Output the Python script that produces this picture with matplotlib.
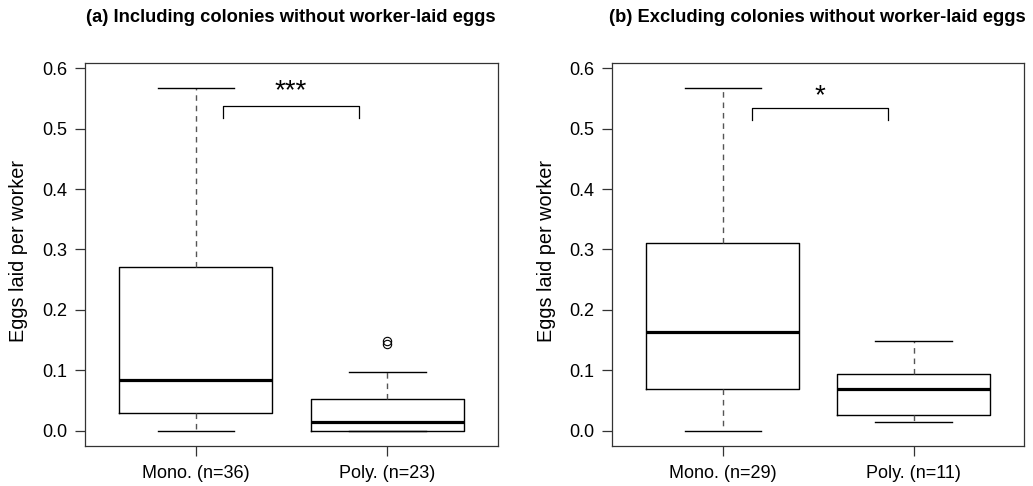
import matplotlib
matplotlib.use("Agg")
import matplotlib.pyplot as plt

plt.rcParams['font.family'] = ['Liberation Sans', 'DejaVu Sans']

# Box statistics per panel: whisker low, Q1, median, Q3, whisker high
groups = ["Mono. (n=36)", "Poly. (n=23)"]
a_whislo = [0.0, 0.0]
a_q1 = [0.029, 0.0]
a_med = [0.085, 0.0144]
a_q3 = [0.271, 0.0525]
a_whishi = [0.567, 0.0975]
a_fliers = [[], [0.143, 0.148]]

groups_b = ["Mono. (n=29)", "Poly. (n=11)"]
b_whislo = [0.0, 0.0144]
b_q1 = [0.069, 0.026]
b_med = [0.164, 0.069]
b_q3 = [0.311, 0.0947]
b_whishi = [0.567, 0.148]
b_fliers = [[], []]

titles = ["(a) Including colonies without worker-laid eggs",
          "(b) Excluding colonies without worker-laid eggs"]
signif = ["***", "*"]
yticks = [0.0, 0.1, 0.2, 0.3, 0.4, 0.5, 0.6]

fig = plt.figure(figsize=(10.33, 4.86), dpi=100)
axa = fig.add_axes([0.0823, 0.083, 0.400, 0.787])
axb = fig.add_axes([0.5925, 0.083, 0.399, 0.787])


def draw(ax, labels, lo, q1, med, q3, hi, fl, title, star, bx0, bx1, by, sy, tx):
    stats = []
    for i in range(len(labels)):
        stats.append(dict(label=labels[i], whislo=lo[i], q1=q1[i], med=med[i],
                          q3=q3[i], whishi=hi[i], fliers=fl[i]))
    ax.bxp(stats, positions=[1, 2], widths=0.8, showfliers=True,
           boxprops=dict(color='black', linewidth=1.0),
           medianprops=dict(color='black', linewidth=2.3, solid_capstyle='butt'),
           whiskerprops=dict(color='#555555', linewidth=1.0, linestyle=(0, (4, 3.5))),
           capprops=dict(color='black', linewidth=1.0),
           capwidths=0.4,
           flierprops=dict(marker='o', markersize=6, markerfacecolor='none',
                           markeredgecolor='black', markeredgewidth=0.8))
    ax.set_xlim(0.42, 2.58)
    ax.set_ylim(-0.0243, 0.608)
    ax.set_yticks(yticks)
    ax.set_yticklabels([f"{v:.1f}" for v in yticks])
    ax.set_xticks([1, 2])
    ax.set_xticklabels(labels)
    ax.tick_params(axis='both', direction='out', length=7, width=0.9,
                   labelsize=13, color='#333333')
    ax.tick_params(axis='y', pad=6)
    ax.tick_params(axis='x', pad=7)
    for s in ax.spines.values():
        s.set_linewidth(0.9)
        s.set_color('#333333')
    ax.set_ylabel("Eggs laid per worker", fontsize=14.3)
    ax.yaxis.set_label_coords(-0.137, 0.51)
    fig.text(tx, 0.965, title, ha='center', va='center',
             fontsize=13.2, fontweight='bold')
    # significance bracket
    ax.plot([bx0, bx0, bx1, bx1], [by - 0.02, by, by, by - 0.02],
            color='black', linewidth=0.9)
    ax.text((bx0 + bx1) / 2, sy, star, ha='center', va='center', fontsize=20)


draw(axa, groups, a_whislo, a_q1, a_med, a_q3, a_whishi, a_fliers,
     titles[0], signif[0], 1.142, 1.853, 0.537, 0.562, 291 / 1033)
draw(axb, groups_b, b_whislo, b_q1, b_med, b_q3, b_whishi, b_fliers,
     titles[1], signif[1], 1.154, 1.867, 0.534, 0.554, 817 / 1033)

fig.savefig("out.png", dpi=100)
